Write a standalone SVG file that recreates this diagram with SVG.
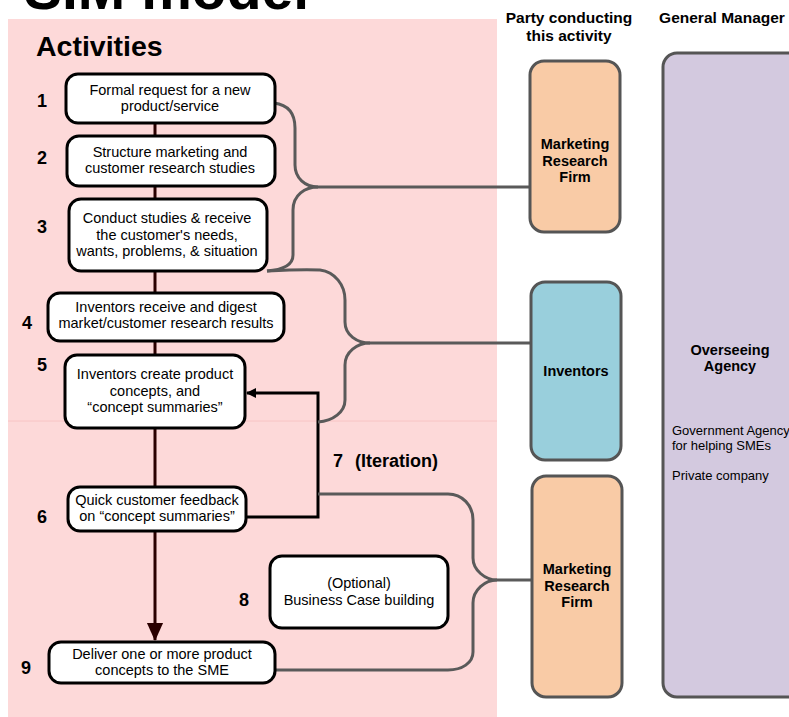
<svg xmlns="http://www.w3.org/2000/svg" width="789" height="717" viewBox="0 0 789 717">
<style>
text{font-family:"Liberation Sans",Arial,sans-serif;fill:#000}
.box{fill:#fff;stroke:#000;stroke-width:3}
.bt{font-size:14.5px;text-anchor:middle}
.num{font-size:18px;font-weight:bold}
.party{stroke:#555;stroke-width:3}
.pt{font-size:14.5px;font-weight:bold;text-anchor:middle}
.hd{font-size:15.5px;font-weight:bold;text-anchor:middle}
.gray{fill:none;stroke:#5a5a5a;stroke-width:3}
.sm{font-size:13px}
</style>
<defs>
<marker id="ah" markerWidth="10" markerHeight="10" refX="9" refY="5" orient="auto" markerUnits="userSpaceOnUse" viewBox="0 0 10 10">
<path d="M0,0 L10,5 L0,10 z" fill="#000"/>
</marker>
<marker id="ahd" viewBox="0 0 20 20" markerWidth="18" markerHeight="20" refX="19" refY="10" orient="auto" markerUnits="userSpaceOnUse">
<path d="M0,1 L20,10 L0,19 z" fill="#2a0000"/>
</marker>
</defs>
<rect width="789" height="717" fill="#fff"/>
<text x="24" y="9" style="font-size:57px;font-weight:bold">SIM model</text>
<rect x="8" y="19" width="489" height="698" fill="#fdd9d9"/>
<line x1="8" y1="421" x2="497" y2="421" stroke="#f8c4c4" stroke-width="1"/>
<text x="36" y="56" style="font-size:28.5px;font-weight:bold">Activities</text>

<g id="connectors">
<line x1="155" y1="123" x2="155" y2="136" stroke="#2a0000" stroke-width="3"/>
<line x1="155" y1="186" x2="155" y2="199" stroke="#2a0000" stroke-width="3"/>
<line x1="155" y1="271" x2="155" y2="293" stroke="#2a0000" stroke-width="3"/>
<line x1="155" y1="341" x2="155" y2="355" stroke="#2a0000" stroke-width="3"/>
<line x1="155" y1="428" x2="155" y2="487" stroke="#2a0000" stroke-width="3"/>
<line x1="155" y1="531" x2="155" y2="640" stroke="#2a0000" stroke-width="3" marker-end="url(#ahd)"/>
<path d="M246,517 H318 V393 H247" fill="none" stroke="#000" stroke-width="3" marker-end="url(#ah)"/>
<path class="gray" d="M274,103 C290,105 295,115 295,128 V165 C295,178 305,187 318,187 H530"/>
<path class="gray" d="M318,187 C305,187 293,195 293,210 V255 C293,266 280,270 267,271"/>
<path class="gray" d="M267,271 C285,270 305,269 320,270 C335,272 345,285 345,300 V322 C345,335 357,343 370,343 H531"/>
<path class="gray" d="M370,343 C357,343 345,352 345,365 V400 C345,412 333,421 318,422"/>
<path class="gray" d="M318,494 H448 C462,494 473,505 473,520 V558 C473,570 485,580 497,580 H532"/>
<path class="gray" d="M497,580 C485,580 473,590 473,603 V652 C473,663 462,670 448,670 H275"/>
</g>

<g id="n1"><rect class="box" x="66" y="74" width="209" height="49" rx="12"/>
<text class="bt" x="170" y="95">Formal request for a new</text><text class="bt" x="170" y="111">product/service</text>
<text class="num" x="37" y="107">1</text></g>
<g id="n2"><rect class="box" x="67" y="136" width="208" height="50" rx="12"/>
<text class="bt" x="170" y="157">Structure marketing and</text><text class="bt" x="170" y="173">customer research studies</text>
<text class="num" x="37" y="164">2</text></g>
<g id="n3"><rect class="box" x="69" y="199" width="198" height="72" rx="12"/>
<text class="bt" x="167" y="223">Conduct studies &amp; receive</text><text class="bt" x="167" y="240">the customer's needs,</text><text class="bt" x="167" y="256">wants, problems, &amp; situation</text>
<text class="num" x="37" y="233">3</text></g>
<g id="n4"><rect class="box" x="48" y="293" width="236" height="48" rx="12"/>
<text class="bt" x="166" y="312">Inventors receive and digest</text><text class="bt" x="166" y="328">market/customer research results</text>
<text class="num" x="22" y="329">4</text></g>
<g id="n5"><rect class="box" x="65" y="355" width="180" height="73" rx="12"/>
<text class="bt" x="155" y="379">Inventors create product</text><text class="bt" x="155" y="396">concepts, and</text><text class="bt" x="155" y="412">“concept summaries”</text>
<text class="num" x="37" y="371">5</text></g>
<g id="n6"><rect class="box" x="68" y="487" width="178" height="44" rx="12"/>
<text class="bt" x="157" y="505">Quick customer feedback</text><text class="bt" x="157" y="521">on “concept summaries”</text>
<text class="num" x="37" y="523">6</text></g>
<g id="n7"><text x="333" y="467" style="font-size:18px;font-weight:bold">7</text><text x="355" y="467" style="font-size:18px;font-weight:bold">(Iteration)</text></g>
<g id="n8"><rect class="box" x="270" y="556" width="178" height="72" rx="12"/>
<text class="bt" x="359" y="588">(Optional)</text><text class="bt" x="359" y="605">Business Case building</text>
<text class="num" x="239" y="606">8</text></g>
<g id="n9"><rect class="box" x="49" y="642" width="226" height="41" rx="12"/>
<text class="bt" x="162" y="659">Deliver one or more product</text><text class="bt" x="162" y="675">concepts to the SME</text>
<text class="num" x="21" y="674">9</text></g>

<g id="headers">
<text class="hd" x="569" y="23">Party conducting</text><text class="hd" x="569" y="41">this activity</text>
<text class="hd" x="722" y="23">General Manager</text>
</g>
<g id="mrf1"><rect class="party" x="530" y="61" width="90" height="171" rx="14" fill="#f9cba6"/>
<text class="pt" x="575" y="149">Marketing</text><text class="pt" x="575" y="166">Research</text><text class="pt" x="575" y="182">Firm</text></g>
<g id="inventors"><rect class="party" x="531" y="282" width="90" height="178" rx="14" fill="#99cfdc"/>
<text class="pt" x="576" y="376">Inventors</text></g>
<g id="mrf2"><rect class="party" x="532" y="476" width="90" height="221" rx="14" fill="#f9cba6"/>
<text class="pt" x="577" y="574">Marketing</text><text class="pt" x="577" y="591">Research</text><text class="pt" x="577" y="607">Firm</text></g>
<g id="agency"><rect class="party" x="663" y="53" width="140" height="644" rx="14" fill="#d3c9df"/>
<text class="pt" x="730" y="355">Overseeing</text><text class="pt" x="730" y="371">Agency</text>
<text class="sm" x="672" y="435">Government Agency</text>
<text class="sm" x="672" y="450">for helping SMEs</text>
<text class="sm" x="672" y="480">Private company</text></g>
</svg>
